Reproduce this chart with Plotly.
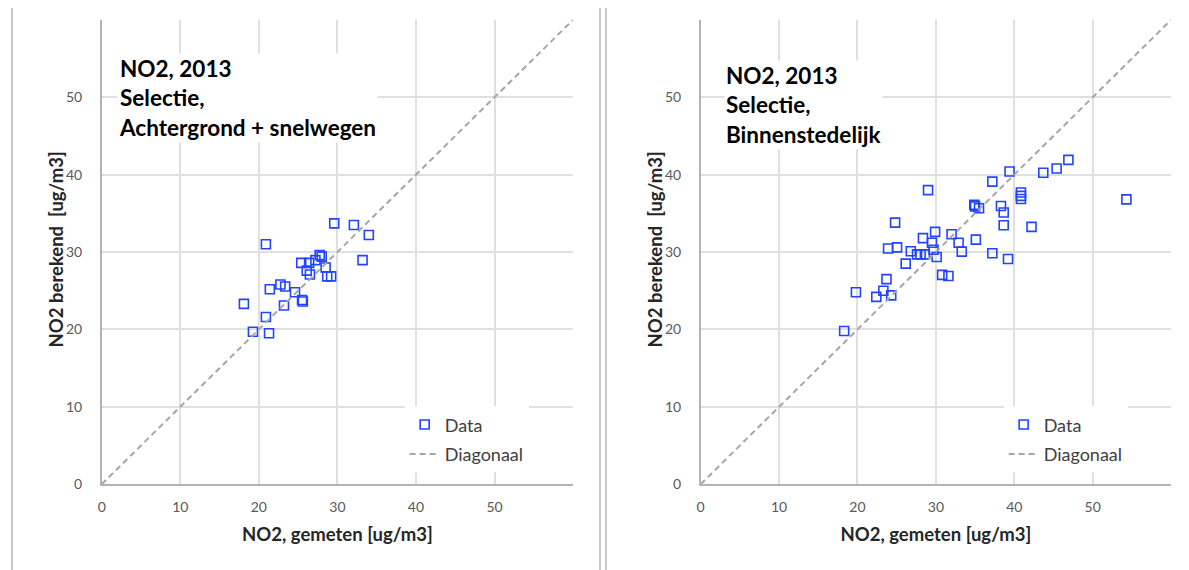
import plotly.graph_objects as go

# ---- data ----
left_x = [29.6, 32.1, 34.0, 20.9, 27.75, 28.0, 27.2, 25.4, 26.4, 26.1, 26.5, 28.5, 28.7, 29.2,
          33.2, 22.75, 23.35, 21.4, 24.6, 25.5, 25.6, 23.2, 18.1, 20.9, 19.25, 21.3]
left_y = [33.7, 33.5, 32.2, 31.0, 29.6, 29.4, 28.95, 28.6, 28.6, 27.6, 27.1, 28.0, 26.85, 26.85,
          28.95, 25.8, 25.55, 25.2, 24.8, 23.8, 23.6, 23.1, 23.3, 21.6, 19.7, 19.5]

right_x = [46.9, 45.4, 43.7, 39.4, 37.2, 29.0, 40.85, 40.85, 40.85, 54.3, 34.9, 35.0, 35.5,
           38.3, 38.65, 38.65, 42.2, 24.8, 29.9, 32.0, 28.35, 35.1, 29.5, 32.9, 23.9, 25.05,
           26.8, 29.7, 33.3, 27.6, 28.05, 28.6, 30.1, 37.2, 39.2, 26.15, 30.8, 31.6, 23.7,
           23.3, 24.3, 19.8, 22.4, 18.3]
right_y = [41.9, 40.8, 40.25, 40.4, 39.1, 38.0, 37.7, 37.25, 36.85, 36.8, 36.1, 35.9, 35.65,
           35.95, 35.1, 33.45, 33.25, 33.8, 32.6, 32.3, 31.8, 31.6, 31.2, 31.2, 30.45, 30.6,
           30.1, 30.3, 30.05, 29.7, 29.7, 29.7, 29.35, 29.85, 29.1, 28.5, 27.05, 26.9, 26.5,
           25.0, 24.4, 24.8, 24.2, 19.8]

diag = [0, 60]
tick_vals = [0, 10, 20, 30, 40, 50]
tick_text = ["0", "10", "20", "30", "40", "50"]

titles = ["NO2, 2013<br>Selectie,<br>Achtergrond + snelwegen",
          "NO2, 2013<br>Selectie,<br>Binnenstedelijk"]
x_title = "NO2, gemeten [ug/m3]"
y_title = "NO2 berekend\u00a0\u00a0[ug/m3]"

W, H = 1189, 570
S = 8  # page body margin offset compensation

def px(x):
    return (x - S) / W

def py(y):
    return 1 - (y - S) / H

FONT = "Lato"
BLUE = "#2244ff"
GRID = "#e0e0e0"
AXIS = "#b3b3b3"

fig = go.Figure()

panels = [
    dict(xs=left_x, ys=left_y, xa="x", ya="y", legend="legend"),
    dict(xs=right_x, ys=right_y, xa="x2", ya="y2", legend="legend2"),
]
for p in panels:
    fig.add_trace(go.Scatter(x=p["xs"], y=p["ys"], mode="markers", name="Data",
                             xaxis=p["xa"], yaxis=p["ya"], legend=p["legend"],
                             legendgroup="a" + p["xa"],
                             marker=dict(symbol="square-open", size=9, color=BLUE,
                                         line=dict(width=1.6, color=BLUE))))
    fig.add_trace(go.Scatter(x=diag, y=diag, mode="lines", name="Diagonaal",
                             xaxis=p["xa"], yaxis=p["ya"], legend=p["legend"],
                             legendgroup="b" + p["xa"],
                             line=dict(color="#a6a6a6", width=2, dash="6px,4px")))

ydom = [py(491), py(20)]
xdoms = [[px(98), px(571)], [px(699), px(1171)]]

def xaxis(dom, anchor):
    return dict(domain=dom, anchor=anchor, range=[0, 60], tickvals=tick_vals, ticktext=tick_text,
                showgrid=True, gridcolor=GRID, gridwidth=2, zeroline=False,
                showline=True, linecolor=AXIS, linewidth=1.5, mirror=False,
                ticks="", ticklabelstandoff=9,
                tickfont=dict(family=FONT, size=14, color="#595959"),
                title=dict(text="<b>" + x_title + "</b>", standoff=14,
                           font=dict(family=FONT, size=18.5, color="#262626")))

def yaxis(anchor):
    return dict(domain=ydom, anchor=anchor, range=[0, 60], tickvals=tick_vals, ticktext=tick_text,
                showgrid=True, gridcolor=GRID, gridwidth=2, zeroline=False,
                showline=True, linecolor=AXIS, linewidth=1.5, mirror=False,
                ticks="", ticklabelstandoff=15,
                tickfont=dict(family=FONT, size=14, color="#595959"))

legend_common = dict(bgcolor="white", borderwidth=0, tracegroupgap=3,
                     font=dict(family=FONT, size=18, color="#404040"),
                     xanchor="left", yanchor="top", itemwidth=30)

fig.update_layout(
    width=W, height=H, margin=dict(l=0, r=0, t=0, b=0),
    paper_bgcolor="white", plot_bgcolor="white",
    showlegend=True,
    xaxis=xaxis(xdoms[0], "y"), yaxis=yaxis("x"),
    xaxis2=xaxis(xdoms[1], "y2"), yaxis2=yaxis("x2"),
    legend=dict(x=px(402), y=py(412), **legend_common),
    legend2=dict(x=px(1003), y=py(412), **legend_common),
    font=dict(family=FONT),
)

# y-axis titles (rotated text beside each y axis)
for xc in [52, 653]:
    fig.add_annotation(xref="paper", yref="paper", x=px(xc), y=py(253),
                       xanchor="center", yanchor="middle", textangle=-90, showarrow=False,
                       text="<b>" + y_title + "</b>",
                       font=dict(family=FONT, size=18.5, color="#262626"))

# titles inside panels
for t, xp, yp in zip(titles, [113, 722], [54, 61]):
    fig.add_annotation(xref="paper", yref="paper", x=px(xp), y=py(yp),
                       xanchor="left", yanchor="top", align="left", showarrow=False,
                       text="<b>" + t + "</b>", bgcolor="white",
                       font=dict(family=FONT, size=22.5, color="#000000"))

# panel frames
for x0, x1 in [(8, 598), (604, 1196)]:
    fig.add_shape(type="rect", xref="paper", yref="paper",
                  x0=px(x0), x1=px(x1), y0=-0.1, y1=py(7),
                  line=dict(color="#c8c8c8", width=2), layer="below")

fig.write_html("out.html")
